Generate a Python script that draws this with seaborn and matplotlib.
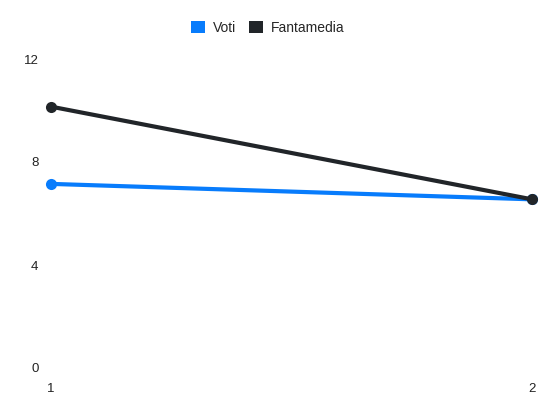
import numpy as np
import pandas as pd
import seaborn as sns
import matplotlib
matplotlib.use("Agg")
import matplotlib.pyplot as plt
from matplotlib.patches import Patch

# values
giornate = [1, 2]
voti = [7.15, 6.55]
fantamedia = [10.15, 6.55]
series_names = ["Voti", "Fantamedia"]
colors = {"Voti": "#087cfc", "Fantamedia": "#212529"}

df = pd.DataFrame({
    "giornata": giornate * 2,
    "valore": voti + fantamedia,
    "serie": [series_names[0]] * len(giornate) + [series_names[1]] * len(giornate),
})

sns.set_theme(style="white")
plt.rcParams['font.family'] = ['Liberation Sans', 'DejaVu Sans']

fig = plt.figure(figsize=(5.5, 4.12), dpi=100)
ax = fig.add_axes([51/550, 44/412, 481/550, 309/412])

sns.lineplot(data=df, x="giornata", y="valore", hue="serie", palette=colors,
             hue_order=series_names, marker="o", markersize=8, linewidth=3,
             markeredgewidth=0, legend=False, ax=ax)

ax.set_xlim(1, 2)
ax.set_ylim(0, 12)
ax.set_xticks(giornate)
ax.set_yticks([0, 4, 8, 12])
ax.set_xlabel("")
ax.set_ylabel("")
for s in ax.spines.values():
    s.set_visible(False)
ax.tick_params(axis="both", length=0, labelsize=9.5, colors="#222222")
ax.tick_params(axis="y", pad=9)
ax.tick_params(axis="x", pad=11)
for line in ax.lines:
    line.set_clip_on(False)

handles = [Patch(facecolor=colors[n], edgecolor="none", label=n) for n in series_names]
fig.legend(handles=handles, loc="center", bbox_to_anchor=(0.487, 1 - 28/412), ncol=2,
           frameon=False, fontsize=10, handlelength=1.0, handleheight=1.0,
           handletextpad=0.6, columnspacing=0.9)

fig.savefig("out.png", dpi=100)
